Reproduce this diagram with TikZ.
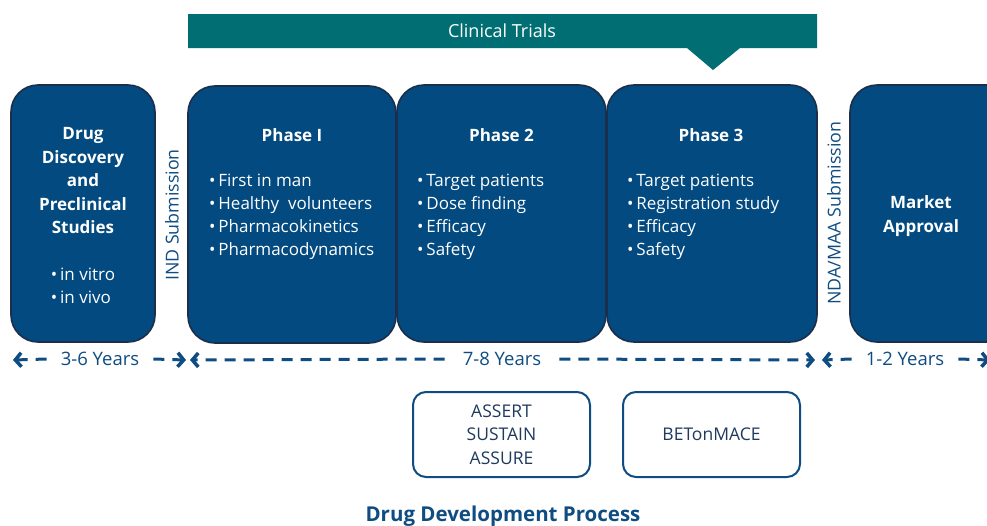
\documentclass[tikz,border=0pt]{standalone}
\usepackage{fontspec}
\setmainfont{Open Sans}
\usetikzlibrary{arrows.meta}
\definecolor{boxblue}{HTML}{024A80}
\definecolor{boxedge}{HTML}{1B2E4B}
\definecolor{bannerteal}{HTML}{006E72}
\definecolor{txtblue}{HTML}{0F4C81}
\definecolor{navytxt}{HTML}{1F3A5F}
\begin{document}
\begin{tikzpicture}[x=1pt,y=-1pt,
  stagebox/.style={draw=boxedge, line width=1.6pt, fill=boxblue, rounded corners=27pt, inner sep=0pt},
  trialbox/.style={draw=txtblue, line width=2pt, fill=white, rounded corners=13pt, inner sep=0pt,
    minimum width=177pt, minimum height=85pt, text=navytxt, align=center,
    font=\fontsize{17.5}{23.5}\selectfont},
  stagetitle/.style={text=white, align=center, font=\fontsize{17}{23.5}\selectfont\bfseries},
  bullets/.style={text=white, align=left, anchor=north west, inner sep=0pt,
    font=\fontsize{17}{23}\selectfont},
  yearlabel/.style={text=txtblue, inner sep=0pt, font=\fontsize{18.5}{20}\selectfont},
  dasharrow/.style={draw=txtblue, line width=3pt, dash pattern=on 11pt off 8pt,
    -{Straight Barb[length=6pt,width=14pt,line width=3.5pt]}},
  sublabel/.style={text=txtblue, rotate=90, inner sep=0pt, font=\fontsize{17.8}{20}\selectfont}
]
\useasboundingbox (0,0) rectangle (987,525);

% banner
\fill[bannerteal] (188,14) -- (817,14) -- (817,48) -- (740,48) -- (713,70) -- (687,48) -- (188,48) -- cycle;
\node[text=white, font=\fontsize{18}{20}\selectfont] (ct) at (502,31) {Clinical Trials};

% stage boxes
\node[stagebox, minimum width=144pt, minimum height=257pt] (drug) at (83,213.5) {};
\node[stagebox, minimum width=208pt, minimum height=257pt] (p1) at (292,214.5) {};
\node[stagebox, minimum width=209pt, minimum height=257pt] (p2) at (501.5,213.5) {};
\node[stagebox, minimum width=210pt, minimum height=257pt] (p3) at (712,213.5) {};
\node[stagebox, minimum width=170pt, minimum height=257pt] (ma) at (935,213.5) {};

% box texts
\node[stagetitle] (drugt) at (83,181) {Drug\\Discovery\\and\\Preclinical\\Studies};
\node[text=white, align=left, font=\fontsize{17}{23.5}\selectfont] (drugb) at (83,286) {•\,in vitro\\•\,in vivo};

\node[stagetitle] (p1t) at (292,135) {Phase I};
\node[bullets] (p1b) at (209,174) {•\,First in man\\•\,Healthy\ \ volunteers\\•\,Pharmacokinetics\\•\,Pharmacodynamics};
\node[stagetitle] (p2t) at (501.5,135) {Phase 2};
\node[bullets] (p2b) at (417,174) {•\,Target patients\\•\,Dose finding\\•\,Efficacy\\•\,Safety};
\node[stagetitle] (p3t) at (711,135) {Phase 3};
\node[bullets] (p3b) at (627,174) {•\,Target patients\\•\,Registration study\\•\,Efficacy\\•\,Safety};
\node[stagetitle] (mat) at (921,216) {Market\\Approval};

% submissions
\node[sublabel] (ind) at (172,215) {IND Submission};
\node[sublabel] (nda) at (834,213) {NDA/MAA Submission};

% year arrows
\node[yearlabel] (y1) at (100,359) {3-6 Years};
\node[yearlabel] (y2) at (502,359) {7-8 Years};
\node[yearlabel] (y3) at (905,359) {1-2 Years};
\coordinate (a1l) at (13,360);
\coordinate (a1r) at (186,360);
\coordinate (a2l) at (190,360);
\coordinate (a2r) at (815,360);
\coordinate (a3l) at (822,360);
\coordinate (a3r) at (990,360);
\draw[dasharrow] ([xshift=-14pt]y1.west) -- (a1l);
\draw[dasharrow] ([xshift=14pt]y1.east) -- (a1r);
\draw[dasharrow] ([xshift=-18pt]y2.west) -- (a2l);
\draw[dasharrow] ([xshift=18pt]y2.east) -- (a2r);
\draw[dasharrow] ([xshift=-14pt]y3.west) -- (a3l);
\draw[dasharrow] ([xshift=14pt]y3.east) -- (a3r);

% trial boxes
\node[trialbox] (tb1) at (501.5,434.5) {ASSERT\\SUSTAIN\\ASSURE};
\node[trialbox] (tb2) at (711.5,434.5) {BETonMACE};

% title
\node[text=txtblue, font=\fontsize{20.5}{22}\selectfont\bfseries] (title) at (503,516) {Drug Development Process};
\end{tikzpicture}
\end{document}
